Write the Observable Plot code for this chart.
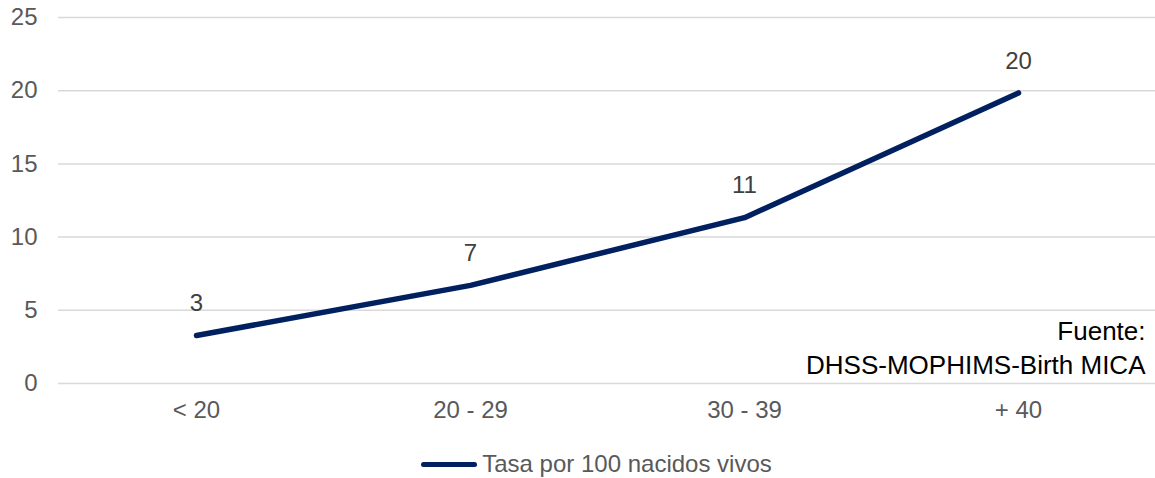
<!DOCTYPE html>
<html>
<head>
<meta charset="utf-8">
<script src="https://cdn.jsdelivr.net/npm/d3@7"></script>
<script src="https://cdn.jsdelivr.net/npm/@observablehq/plot@0.6"></script>
<style>
  html, body { margin: 0; padding: 0; background: #fff; }
  body { width: 1155px; height: 478px; overflow: hidden; font-family: "Liberation Sans", Arial, sans-serif; }
  #legend { height: 48px; display: flex; justify-content: center; align-items: center; color: #595959; font-size: 24px; padding-left: 38px; }
  #legend .sw { display: inline-block; width: 56px; height: 5px; border-radius: 3px; background: #002060; margin-right: 5px; }
</style>
</head>
<body>
<div id="chart"></div>
<div id="legend"><span class="sw"></span><span>Tasa por 100 nacidos vivos</span></div>
<script>
const categories = ["< 20", "20 - 29", "30 - 39", "+ 40"];
const values = [3.28, 6.7, 11.33, 19.85];
const labels = ["3", "7", "11", "20"];
const yTicks = [0, 5, 10, 15, 20, 25];
const seriesName = "Tasa por 100 nacidos vivos";
const sourceLines = ["Fuente:", "DHSS-MOPHIMS-Birth MICA"];

const data = categories.map((c, i) => ({cat: c, value: values[i], label: labels[i]}));

const chart = Plot.plot({
  width: 1155,
  height: 440,
  marginTop: 17,
  marginBottom: 57,
  marginLeft: 58,
  marginRight: 0,
  style: {fontFamily: "Liberation Sans, Arial, sans-serif", fontSize: "24px", color: "#595959", background: "#fff"},
  x: {type: "point", domain: categories, padding: 0.5, label: null},
  y: {domain: [0, 25], label: null},
  marks: [
    Plot.ruleY(yTicks, {stroke: "#d9d9d9", strokeWidth: 1.5}),
    Plot.axisY(yTicks, {tickSize: 0, tickPadding: 21, fill: "#595959", fontSize: 24, label: null}),
    Plot.axisX({tickSize: 0, tickPadding: 17, fill: "#595959", fontSize: 24, label: null}),
    Plot.line(data, {x: "cat", y: "value", stroke: "#002060", strokeWidth: 5.5, strokeLinecap: "round", strokeLinejoin: "round"}),
    Plot.text(data, {x: "cat", y: "value", text: "label", dy: -32, fill: "#404040", fontSize: 24}),
    Plot.text([sourceLines[0]], {text: d => d, frameAnchor: "bottom-right", lineAnchor: "middle", dx: -10, dy: -52, fill: "#000", fontSize: 26}),
    Plot.text([sourceLines[1]], {text: d => d, frameAnchor: "bottom-right", lineAnchor: "middle", dx: -10, dy: -18, fill: "#000", fontSize: 26})
  ]
});
document.getElementById("chart").appendChild(chart);
</script>
</body>
</html>
